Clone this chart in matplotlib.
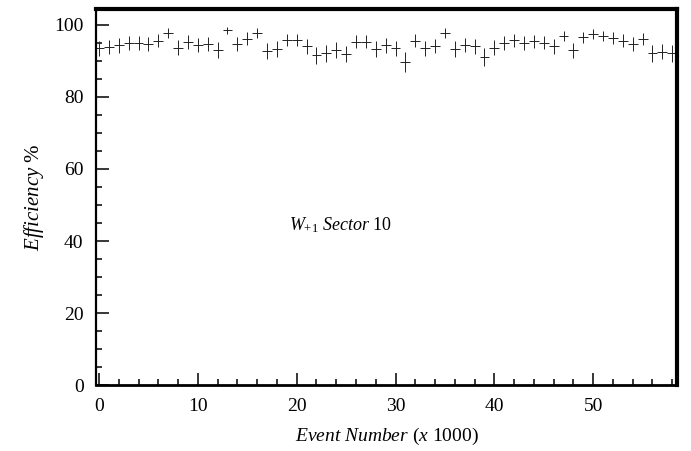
import matplotlib
matplotlib.use('Agg')
import matplotlib.pyplot as plt
import numpy as np
from matplotlib.ticker import MultipleLocator

plt.rcParams['font.family'] = ['Liberation Serif', 'DejaVu Serif']
plt.rcParams['mathtext.fontset'] = 'custom'
plt.rcParams['mathtext.rm'] = 'Liberation Serif'
plt.rcParams['mathtext.it'] = 'Liberation Serif:italic'

# numer zdarzenia (x 1000) i wydajnosc w %
event = list(range(59))
eff = [93.5, 93.8, 94.3, 95.0, 94.9, 94.6, 95.6, 97.7, 93.6, 95.2,
       94.4, 94.7, 93.1, 98.5, 94.6, 96.2, 97.7, 92.8, 93.3, 95.8,
       95.8, 94.0, 91.5, 92.1, 93.1, 91.9, 95.3, 95.3, 93.2, 94.3,
       93.5, 89.6, 95.6, 93.5, 94.2, 97.7, 93.2, 94.4, 94.0, 91.2,
       93.6, 94.9, 95.7, 95.0, 95.5, 95.1, 94.0, 96.9, 92.9, 96.5,
       97.4, 96.9, 96.3, 95.6, 94.7, 96.0, 92.1, 92.6, 92.1]
eff_err = [2.1, 2.0, 2.0, 1.9, 1.9, 1.9, 1.8, 1.3, 2.1, 1.9,
           2.0, 1.9, 2.2, 1.0, 1.9, 1.7, 1.3, 2.2, 2.1, 1.8,
           1.8, 2.0, 2.4, 2.3, 2.2, 2.3, 1.8, 1.8, 2.2, 2.0,
           2.1, 2.8, 1.8, 2.1, 2.0, 1.3, 2.2, 2.0, 2.0, 2.5,
           2.1, 1.9, 1.8, 1.9, 1.8, 1.9, 2.0, 1.5, 2.2, 1.6,
           1.4, 1.5, 1.6, 1.8, 1.9, 1.7, 2.3, 2.2, 2.3]
bin_half = 0.5

fig = plt.figure(figsize=(6.91, 4.51), dpi=100)
ax = fig.add_axes([0.139, 0.146, 0.841, 0.834])

ax.errorbar(event, eff, yerr=eff_err, xerr=bin_half, fmt='none',
            ecolor='#222222', elinewidth=0.7, capsize=0)

ax.set_xlim(-0.3, 58.5)
ax.set_ylim(0, 104.4)

ax.xaxis.set_major_locator(MultipleLocator(10))
ax.xaxis.set_minor_locator(MultipleLocator(2))
ax.yaxis.set_major_locator(MultipleLocator(20))
ax.yaxis.set_minor_locator(MultipleLocator(5))
ax.tick_params(which='both', direction='in', top=False, right=False,
               labelsize=14, width=1.1)
ax.tick_params(which='major', length=9, pad=9)
ax.tick_params(which='minor', length=4.5)

ax.spines['left'].set_linewidth(1.6)
ax.spines['bottom'].set_linewidth(2.0)
ax.spines['right'].set_linewidth(3.0)
ax.spines['top'].set_linewidth(3.0)

ax.set_xlabel(r'$\mathit{Event\ Number}$ ($\mathit{x}$ 1000)', fontsize=14, labelpad=8)
ax.set_ylabel(r'$\mathit{Efficiency\ \%}$', fontsize=15, labelpad=6)

ax.text(19.2, 44.4, r'$\mathit{W}_{+1}$ $\mathit{Sector}$ 10', fontsize=13,
        ha='left', va='center')

fig.savefig('out.png', dpi=100)
